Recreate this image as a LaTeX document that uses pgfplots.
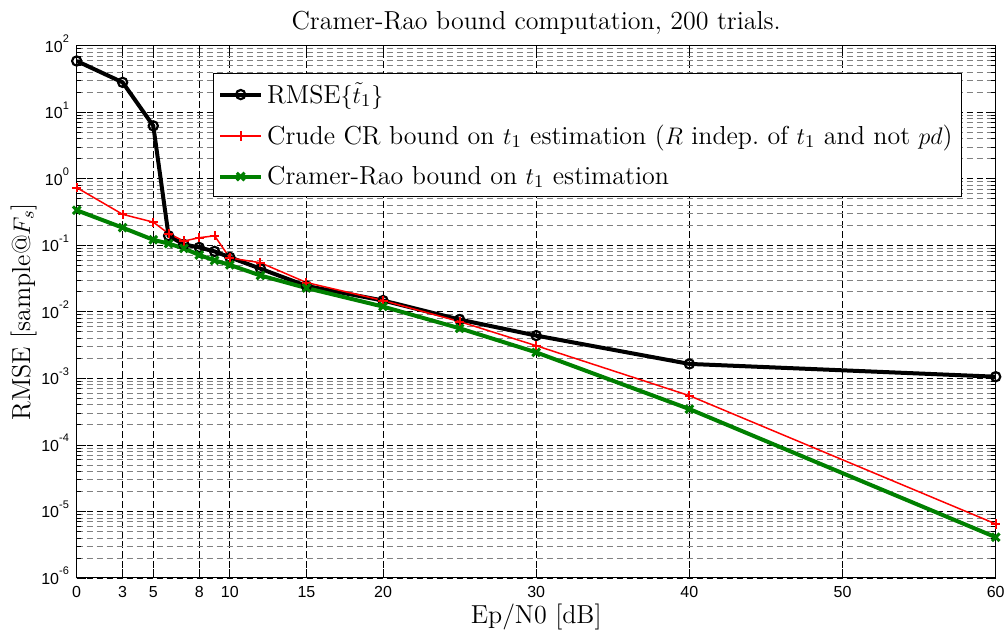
\documentclass[border=0pt]{standalone}
\usepackage{fontspec}
\newfontfamily\tickfont{Liberation Sans}
\usepackage{pgfplots}
\pgfplotsset{compat=1.18}
\newcommand{\tsup}[1]{\raisebox{4.8pt}{\fontsize{5.5}{6}\selectfont #1}}
\definecolor{mgreen}{rgb}{0,0.5,0}

\pgfplotstableread{
x y
0 58.9
3 28.1
5 6.24
6 0.139
7 0.103
8 0.0929
9 0.081
10 0.066
12 0.0445
15 0.0245
20 0.0148
25 0.00766
30 0.0044
40 0.00165
60 0.00106
}\rmsedata
\pgfplotstableread{
x y
0 0.736
3 0.292
5 0.223
6 0.150
7 0.116
8 0.130
9 0.139
10 0.0646
12 0.0547
15 0.0276
20 0.0148
25 0.00714
30 0.0031
40 0.00055
60 6.5e-6
}\crudedata
\pgfplotstableread{
x y
0 0.336
3 0.184
5 0.121
6 0.106
7 0.0898
8 0.0716
9 0.0593
10 0.0507
12 0.0352
15 0.0228
20 0.012
25 0.00566
30 0.00246
40 0.000346
60 4.1e-6
}\crbdata

\begin{document}
\begin{tikzpicture}
\useasboundingbox (-38.35pt,-26pt) rectangle (465.15pt,289pt);
\begin{axis}[
  at={(0,0)}, anchor=south west,
  scale only axis, width=459.5pt, height=266.15pt,
  xmin=0, xmax=60, ymode=log, ymin=1e-6, ymax=1e2,
  xtick={0,3,5,8,10,15,20,30,40,50,60},
  xticklabels={0,3,5,8,10,15,20,30,40,50,60},
  ytick={1e-6,1e-5,1e-4,1e-3,1e-2,1e-1,1,10,100},
  yticklabels={10\tsup{-6},10\tsup{-5},10\tsup{-4},10\tsup{-3},10\tsup{-2},10\tsup{-1},10\tsup{0},10\tsup{1},10\tsup{2}},
  minor ytick={2e-6,3e-6,4e-6,5e-6,6e-6,7e-6,8e-6,9e-6,
               2e-5,3e-5,4e-5,5e-5,6e-5,7e-5,8e-5,9e-5,
               2e-4,3e-4,4e-4,5e-4,6e-4,7e-4,8e-4,9e-4,
               2e-3,3e-3,4e-3,5e-3,6e-3,7e-3,8e-3,9e-3,
               2e-2,3e-2,4e-2,5e-2,6e-2,7e-2,8e-2,9e-2,
               0.2,0.3,0.4,0.5,0.6,0.7,0.8,0.9,
               2,3,4,5,6,7,8,9,
               20,30,40,50,60,70,80,90},
  grid=both,
  major grid style={dash pattern=on 3.3pt off 1.7pt, black, line width=0.4pt},
  minor grid style={dash pattern=on 3.3pt off 1.7pt, black!50, line width=0.4pt},
  tick align=inside, tick pos=both, ticklabel pos=left,
  major tick length=4.6pt, minor tick length=2.3pt,
  every tick/.style={black, line width=0.4pt},
  axis line style={line width=0.5pt},
  xticklabel style={font=\tickfont\fontsize{8}{9}\selectfont, anchor=center, yshift=-6.85pt},
  yticklabel style={font=\tickfont\fontsize{8}{9}\selectfont, anchor=base east, inner sep=0pt, xshift=-3.7pt, yshift=-3.2pt},
  title={Cramer-Rao bound computation, 200 trials.},
  title style={font=\fontsize{13}{15}\selectfont, at={(0.5,1)}, anchor=base, yshift=2.2pt},
  xlabel={Ep/N0 [dB]},
  xlabel style={font=\fontsize{13}{15}\selectfont, at={(0.5,0)}, anchor=base, yshift=-23pt},
  ylabel={RMSE [sample@$F_s$]},
  ylabel style={font=\fontsize{13}{15}\selectfont, at={(0,0.5)}, anchor=base, yshift=23.3pt},
  legend style={at={(0.148,0.948)}, anchor=north west, font=\fontsize{13}{15}\selectfont,
    draw=black, line width=0.5pt, fill=white, inner xsep=2.5pt, inner ysep=2.5pt, row sep=5.3pt,
    /tikz/every even column/.append style={column sep=0.5pt}},
  legend cell align=left,
  legend image code/.code={\draw[mark repeat=2,mark phase=2,#1] plot coordinates {(0pt,0pt) (10.25pt,0pt) (20.5pt,0pt)};},
]
\addplot[black, line width=2pt, mark=o, mark size=2.3pt, mark options={line width=1.1pt}] table {\rmsedata};
\addlegendentry{RMSE$\{\tilde{t}_1\}$}
\addplot[red, line width=0.75pt, mark=+, mark size=2.3pt, mark options={line width=1pt}] table {\crudedata};
\addlegendentry{Crude CR bound on $t_1$ estimation ($R$ indep.\ of $t_1$ and not $pd$)}
\addplot[mgreen, line width=2pt, mark=x, mark size=2.7pt, mark options={line width=1.5pt}] table {\crbdata};
\addlegendentry{Cramer-Rao bound on $t_1$ estimation}
\end{axis}
\end{tikzpicture}
\end{document}
